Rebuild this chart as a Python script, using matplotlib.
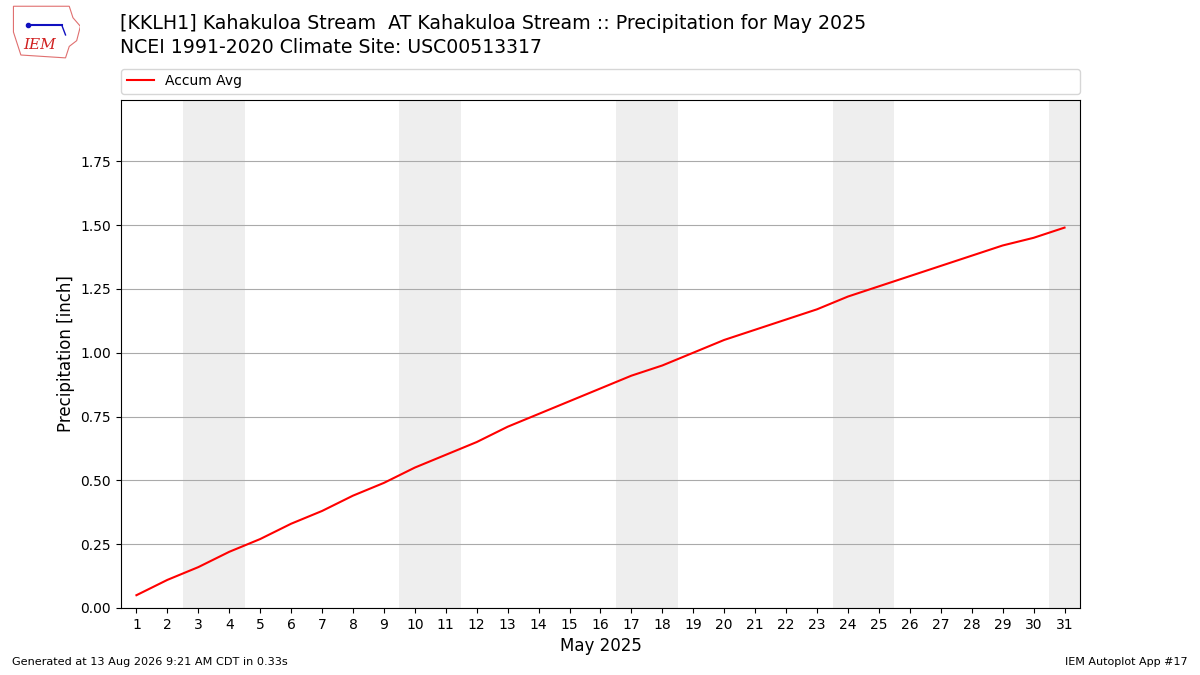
import matplotlib
matplotlib.use("Agg")
import matplotlib.pyplot as plt
from matplotlib.patches import Polygon

days = list(range(1, 32))
accum_avg = [0.05, 0.11, 0.16, 0.22, 0.27, 0.33, 0.38, 0.44, 0.49, 0.55,
             0.60, 0.65, 0.71, 0.76, 0.81, 0.86, 0.91, 0.95, 1.00, 1.05,
             1.09, 1.13, 1.17, 1.22, 1.26, 1.30, 1.34, 1.38, 1.42, 1.45, 1.49]
weekends = [3, 4, 10, 11, 17, 18, 24, 25, 31]

fig = plt.figure(figsize=(12, 6.75), dpi=100)
ax = fig.add_axes([0.1008, 0.0993, 0.7992, 0.7526])

# shade weekends
for d in weekends:
    ax.axvspan(d - 0.5, d + 0.5, color="#eeeeee", lw=0, zorder=0)

ax.plot(days, accum_avg, color="r", lw=1.5, label="Accum Avg", zorder=3)
ax.set_xlim(0.5, 31.5)
ax.set_ylim(0, 1.99)
ax.set_xticks(days)
ax.set_yticks([0, 0.25, 0.5, 0.75, 1.0, 1.25, 1.5, 1.75])
ax.yaxis.set_major_formatter(matplotlib.ticker.FormatStrFormatter("%.2f"))
ax.grid(axis="y", color="#aaaaaa", lw=0.8, zorder=1)
ax.set_axisbelow(True)
ax.set_xlabel("May 2025", fontsize=12)
ax.set_ylabel("Precipitation [inch]", fontsize=12)
ax.legend(loc="lower left", bbox_to_anchor=(0, 1.012, 1, 0.05),
          mode="expand", ncol=1, borderaxespad=0, fontsize=10)

fig.text(0.1, 0.965, "[KKLH1] Kahakuloa Stream  AT Kahakuloa Stream :: Precipitation for May 2025",
         fontsize=13.65, va="center")
fig.text(0.1, 0.93, "NCEI 1991-2020 Climate Site: USC00513317", fontsize=13.6, va="center")

fig.text(0.01, 0.015, "Generated at 13 Aug 2026 9:21 AM CDT in 0.33s", fontsize=8.15)
fig.text(0.99, 0.015, "IEM Autoplot App #17", fontsize=8, ha="right")

# rough IEM logo
lax = fig.add_axes([0.005, 0.91, 0.062, 0.085])
lax.set_xlim(0, 1)
lax.set_ylim(0, 1)
lax.axis("off")
outline = [(0.1, 0.95), (0.85, 0.95), (0.9, 0.75), (1.0, 0.6), (0.95, 0.35),
           (0.85, 0.25), (0.8, 0.05), (0.2, 0.1), (0.1, 0.5)]
lax.add_patch(Polygon(outline, closed=True, fill=False, ec="#e07070", lw=0.8))
lax.plot([0.3, 0.75], [0.62, 0.62], color="#1010c0", lw=1.5)
lax.plot([0.3], [0.62], "o", color="#1010c0", ms=3)
lax.plot([0.75, 0.8], [0.62, 0.45], color="#1010c0", lw=1)
lax.text(0.45, 0.28, "IEM", color="#d02020", fontsize=11, family="DejaVu Serif",
         style="italic", ha="center", va="center")

fig.savefig("out.png", dpi=100)
